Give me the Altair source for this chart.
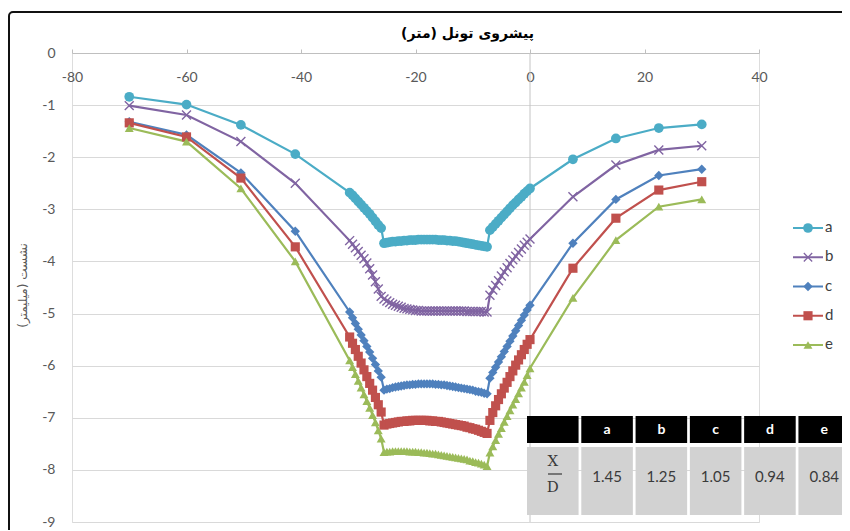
import altair as alt
import pandas as pd

# ---------------- data ----------------
x_pos = [-70, -60, -50.5, -41,
         -31.5, -31, -30.5, -30, -29.5, -29, -28.5, -28, -27.5, -27, -26.5, -26,
         -25.5, -25, -24.5, -24, -23.5, -23, -22.5, -22, -21.5, -21, -20.5, -20,
         -19.5, -19, -18.5, -18, -17.5, -17, -16.5, -16, -15.5, -15, -14.5, -14,
         -13.5, -13, -12.5, -12, -11.5, -11, -10.5, -10, -9.5, -9, -8.5, -8, -7.5,
         -7, -6.5, -6, -5.5, -5, -4.5, -4, -3.5, -3, -2.5, -2, -1.5, -1, -0.5, 0,
         7.5, 15, 22.5, 30]

a_vals = [-0.84, -0.99, -1.38, -1.94,
          -2.68, -2.73, -2.79, -2.85, -2.91, -2.97, -3.03, -3.09, -3.16, -3.23, -3.30, -3.36,
          -3.65, -3.64, -3.63, -3.62, -3.62, -3.61, -3.61, -3.60, -3.60, -3.59, -3.59, -3.59,
          -3.58, -3.58, -3.58, -3.58, -3.58, -3.58, -3.58, -3.59, -3.59, -3.59, -3.60, -3.60,
          -3.61, -3.61, -3.62, -3.63, -3.64, -3.65, -3.66, -3.67, -3.68, -3.69, -3.70, -3.71, -3.72,
          -3.40, -3.34, -3.28, -3.22, -3.16, -3.10, -3.04, -2.98, -2.92, -2.87, -2.81, -2.76, -2.70, -2.65, -2.60,
          -2.04, -1.64, -1.44, -1.37]

b_vals = [-1.01, -1.19, -1.70, -2.50,
          -3.60, -3.67, -3.74, -3.81, -3.88, -3.95, -4.03, -4.14, -4.26, -4.39, -4.53, -4.67,
          -4.72, -4.76, -4.79, -4.82, -4.84, -4.86, -4.88, -4.90, -4.91, -4.92, -4.93, -4.94,
          -4.94, -4.95, -4.95, -4.95, -4.95, -4.95, -4.95, -4.95, -4.95, -4.95, -4.95, -4.95,
          -4.95, -4.95, -4.95, -4.95, -4.95, -4.96, -4.96, -4.96, -4.96, -4.96, -4.96, -4.97, -4.97,
          -4.65, -4.55, -4.46, -4.37, -4.28, -4.20, -4.12, -4.04, -3.97, -3.90, -3.83, -3.76, -3.69, -3.63, -3.57,
          -2.76, -2.15, -1.86, -1.78]

c_vals = [-1.32, -1.57, -2.30, -3.42,
          -4.97, -5.08, -5.19, -5.30, -5.41, -5.52, -5.63, -5.74, -5.86, -5.98, -6.10, -6.22,
          -6.47, -6.45, -6.44, -6.42, -6.41, -6.40, -6.39, -6.38, -6.37, -6.37, -6.36, -6.36,
          -6.35, -6.35, -6.35, -6.35, -6.35, -6.35, -6.36, -6.36, -6.37, -6.37, -6.38, -6.39,
          -6.40, -6.41, -6.42, -6.43, -6.44, -6.45, -6.46, -6.47, -6.49, -6.50, -6.51, -6.53, -6.54,
          -6.24, -6.13, -6.03, -5.93, -5.83, -5.73, -5.63, -5.53, -5.43, -5.33, -5.23, -5.13, -5.03, -4.93, -4.84,
          -3.65, -2.81, -2.35, -2.23]

d_vals = [-1.34, -1.61, -2.40, -3.72,
          -5.45, -5.57, -5.69, -5.82, -5.95, -6.08, -6.21, -6.34, -6.47, -6.61, -6.75, -6.89,
          -7.14, -7.12, -7.11, -7.10, -7.09, -7.08, -7.07, -7.07, -7.06, -7.06, -7.05, -7.05,
          -7.05, -7.05, -7.05, -7.05, -7.06, -7.06, -7.07, -7.07, -7.08, -7.09, -7.10, -7.11,
          -7.12, -7.13, -7.14, -7.15, -7.16, -7.18, -7.19, -7.21, -7.22, -7.24, -7.26, -7.28, -7.30,
          -7.05, -6.90, -6.77, -6.65, -6.54, -6.43, -6.32, -6.21, -6.10, -5.99, -5.89, -5.79, -5.69, -5.59, -5.50,
          -4.13, -3.17, -2.63, -2.47]

e_vals = [-1.44, -1.70, -2.60, -4.00,
          -5.90, -6.03, -6.16, -6.29, -6.42, -6.55, -6.68, -6.81, -6.95, -7.09, -7.24, -7.40,
          -7.66, -7.65, -7.65, -7.64, -7.64, -7.64, -7.64, -7.64, -7.64, -7.65, -7.65, -7.65,
          -7.66, -7.66, -7.67, -7.67, -7.68, -7.69, -7.69, -7.70, -7.71, -7.72, -7.73, -7.74,
          -7.75, -7.76, -7.77, -7.78, -7.79, -7.80, -7.82, -7.83, -7.85, -7.86, -7.88, -7.90, -7.93,
          -7.67, -7.55, -7.43, -7.31, -7.20, -7.08, -6.97, -6.86, -6.75, -6.64, -6.53, -6.42, -6.31, -6.18, -6.05,
          -4.70, -3.59, -2.95, -2.81]

names = ["a", "b", "c", "d", "e"]
x_ticks = [-80, -60, -40, -20, 0, 20, 40]
y_ticks = [-9, -8, -7, -6, -5, -4, -3, -2, -1, 0]

table_cols = ["XD", "a", "b", "c", "d", "e"]
table_head = ["", "a", "b", "c", "d", "e"]
table_vals = ["", "1.45", "1.25", "1.05", "0.94", "0.84"]

TITLE_X = "\u200fپیشروی تونل (متر)\u200f"
TITLE_Y = "\u200fنشست (میلیمتر)\u200f"

# ---------------- styles ----------------
colors = ["#4BACC6", "#8064A2", "#4F81BD", "#C0504D", "#9BBB59"]
X_PATH = "M-1,-1L1,1M-1,1L1,-1"
shapes = ["circle", X_PATH, "diamond", "square", "triangle-up"]
sizes = [95, 80, 70, 80, 80]
LABEL_FONT = "Lato"
PERSIAN_FONT = "DejaVu Sans"

rows = []
for n, vals in zip(names, [a_vals, b_vals, c_vals, d_vals, e_vals]):
    assert len(vals) == len(x_pos), (n, len(vals))
    for xv, yv in zip(x_pos, vals):
        rows.append({"series": n, "x": xv, "y": yv})
df = pd.DataFrame(rows)

color_enc = alt.Color("series:N", scale=alt.Scale(domain=names, range=colors), legend=None)
shape_enc = alt.Shape("series:N", scale=alt.Scale(domain=names, range=shapes), legend=None)
size_enc = alt.Size("series:N", scale=alt.Scale(domain=names, range=sizes), legend=None)

xscale = alt.Scale(domain=[-80, 40], nice=False, zero=False)
yscale = alt.Scale(domain=[-9, 0], nice=False, zero=False)

x_axis = alt.Axis(orient="top", values=x_ticks, grid=False,
                  domainColor="#BFBFBF", tickColor="#BFBFBF", tickSize=4,
                  labelPadding=-28, labelBaseline="middle", labelFontSize=14,
                  labelColor="#595959", labelFont=LABEL_FONT, labelFlush=False,
                  labelOverlap=False, labelExpr="'' + datum.value",
                  title=TITLE_X, titleX=395, titleY=-20, titleAlign="center",
                  titleBaseline="middle", titleFontSize=14, titleFont=PERSIAN_FONT,
                  titleFontWeight="bold", titleColor="#000000")
y_axis = alt.Axis(values=y_ticks, grid=True, gridColor="#D9D9D9", domain=False,
                  ticks=False, labelPadding=17, labelFontSize=14, labelColor="#595959",
                  labelFont=LABEL_FONT, labelExpr="'' + datum.value",
                  title=TITLE_Y, titleX=-50, titleY=232, titleAngle=270,
                  titleAlign="center", titleBaseline="middle", titleFontSize=12,
                  titleFont=PERSIAN_FONT, titleFontWeight="normal", titleColor="#595959")

# ---------------- main plot ----------------
zero_rule = alt.Chart(pd.DataFrame({"v": [0]})).mark_rule(color="#C4C4C4", strokeWidth=1).encode(
    x=alt.X("v:Q", scale=xscale))
lines = alt.Chart(df).mark_line(strokeWidth=2.2).encode(
    x=alt.X("x:Q", scale=xscale, axis=x_axis),
    y=alt.Y("y:Q", scale=yscale, axis=y_axis),
    color=color_enc)
pts = alt.Chart(df).transform_filter("datum.series != 'b'").mark_point(filled=True, opacity=1).encode(
    x="x:Q", y="y:Q", color=color_enc, shape=shape_enc, size=size_enc)
pts_b = alt.Chart(df).transform_filter("datum.series == 'b'").mark_point(
    filled=False, opacity=1, strokeWidth=1.4, shape=X_PATH, size=80).encode(
    x="x:Q", y="y:Q", color=color_enc)
main = alt.layer(zero_rule, lines, pts, pts_b)

# ---------------- legend (manual, line + marker) ----------------
leg = pd.DataFrame({"series": names})
leg_y = alt.Y("series:N", scale=alt.Scale(type="point", domain=names, range=[175, 292], padding=0), axis=None)
leg_line = alt.Chart(leg).mark_rule(strokeWidth=2).encode(
    x=alt.value(721), x2=alt.value(751), y=leg_y, color=color_enc)
leg_pts = alt.Chart(leg).transform_filter("datum.series != 'b'").mark_point(filled=True, opacity=1).encode(
    x=alt.value(736), y=leg_y, color=color_enc, shape=shape_enc, size=size_enc)
leg_b = alt.Chart(leg).transform_filter("datum.series == 'b'").mark_point(
    filled=False, opacity=1, strokeWidth=1.3, shape=X_PATH, size=70).encode(
    x=alt.value(736), y=leg_y, color=color_enc)
leg_txt = alt.Chart(leg).mark_text(align="left", baseline="middle", fontSize=15,
                                   color="#404040", font=LABEL_FONT, dy=-1).encode(
    x=alt.value(753), y=leg_y, text="series:N")
legend = alt.layer(leg_line, leg_pts, leg_b, leg_txt)

# ---------------- table ----------------
tdf = pd.DataFrame({"col": table_cols, "head": table_head, "val": table_vals})
tx = alt.X("col:N", scale=alt.Scale(domain=table_cols, range=[455, 778], paddingInner=0.05, paddingOuter=0),
           axis=None, sort=None)
head_rect = alt.Chart(tdf).mark_rect(color="#000000").encode(x=tx, y=alt.value(363), y2=alt.value(390))
body_rect = alt.Chart(tdf).mark_rect(color="#D2D2D2").encode(x=tx, y=alt.value(394), y2=alt.value(462))
head_txt = alt.Chart(tdf).mark_text(color="#FFFFFF", fontWeight="bold", fontSize=14,
                                    font=LABEL_FONT, baseline="middle").encode(
    x=tx, y=alt.value(377), text="head:N")
body_txt = alt.Chart(tdf).mark_text(color="#3A3A3A", fontSize=15, font=LABEL_FONT,
                                    baseline="middle").encode(
    x=tx, y=alt.value(424), text="val:N")
frac_x = alt.Chart(tdf).transform_filter("datum.col == 'XD'").mark_text(
    text="X", font="DejaVu Serif", fontSize=15, color="#3A3A3A", baseline="middle").encode(
    x=tx, y=alt.value(408))
frac_d = alt.Chart(tdf).transform_filter("datum.col == 'XD'").mark_text(
    text="D", font="DejaVu Serif", fontSize=15, color="#3A3A3A", baseline="middle").encode(
    x=tx, y=alt.value(434))
frac_line = alt.Chart(tdf).transform_filter("datum.col == 'XD'").mark_rule(
    color="#3A3A3A", strokeWidth=1.2).encode(x=alt.value(476), x2=alt.value(490), y=alt.value(421))
table = alt.layer(head_rect, body_rect, head_txt, body_txt, frac_x, frac_d, frac_line)

# ---------------- outer frame ----------------
frame = alt.Chart(pd.DataFrame({"k": [0]})).mark_rect(
    filled=False, color="#111111", strokeWidth=2, cornerRadius=4).encode(
    x=alt.value(-63), y=alt.value(-41), x2=alt.value(900), y2=alt.value(700))

chart = alt.layer(frame, main, legend, table).resolve_scale(
    x="independent", y="independent"
).properties(
    width=687, height=469,
    padding={"left": 64, "top": 45, "right": 83, "bottom": 8},
    autosize=alt.AutoSizeParams(type="none"),
).configure_view(stroke=None).configure(font=LABEL_FONT)

chart.save("out.html", embed_options={"renderer": "svg", "actions": False})
